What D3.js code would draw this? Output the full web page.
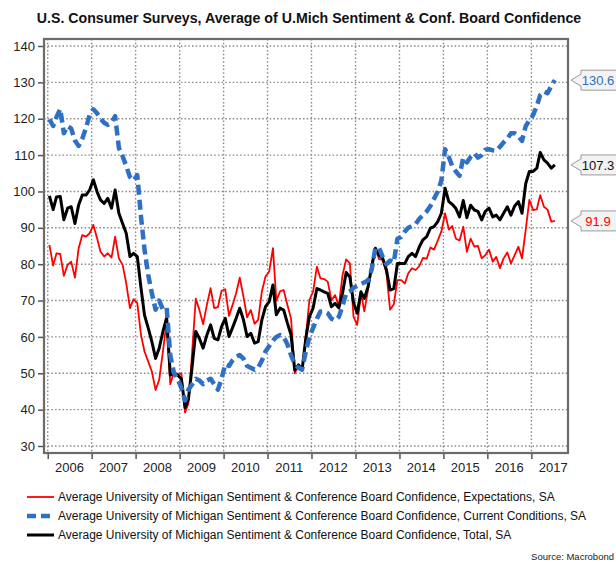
<!DOCTYPE html>
<html>
<head>
<meta charset="utf-8">
<script src="https://cdn.jsdelivr.net/npm/d3@7"></script>
<style>
  body { margin: 0; background: #fff; }
  svg { display: block; font-family: "Liberation Sans", Arial, sans-serif; }
</style>
</head>
<body>
<svg id="chart" width="616" height="562"></svg>
<script>
// monthly values, Jan 2006 .. Jul 2017
var expectations = [
  85.3, 79.6, 83.0, 82.8, 76.8, 79.8, 80.7, 76.3, 84.4, 88.0, 87.6, 88.5,
  90.8, 87.1, 83.5, 82.1, 83.0, 81.8, 87.6, 81.6, 79.8, 74.8, 67.9, 70.4,
  69.3, 60.5, 56.0, 53.2, 50.5, 45.4, 48.2, 56.0, 64.2, 47.0, 50.5, 49.6,
  50.0, 39.2, 41.7, 56.0, 70.5, 67.3, 63.5, 68.8, 73.4, 67.9, 68.2, 72.7,
  73.1, 65.8, 68.6, 72.0, 76.3, 71.1, 65.4, 67.4, 63.6, 64.7, 72.5, 76.6,
  78.0, 84.4, 70.0, 72.5, 72.9, 68.8, 65.1, 50.0, 52.3, 50.9, 60.0, 70.2,
  72.5, 79.3, 76.1, 75.9, 75.2, 70.1, 71.5, 68.5, 77.0, 81.3, 80.2, 65.6,
  63.3, 72.0, 67.0, 73.0, 80.0, 84.4, 81.4, 81.2, 77.5, 67.5, 69.0, 75.6,
  75.6, 74.7, 77.5, 78.9, 78.4, 79.5, 81.7, 81.5, 84.6, 84.0, 86.5, 89.0,
  94.0, 89.5, 90.5, 87.0, 86.5, 90.3, 83.4, 87.0, 84.8, 85.0, 81.6, 82.5,
  84.0, 80.7, 82.0, 78.9, 81.6, 83.2, 80.2, 82.5, 84.8, 81.6, 89.5, 97.7,
  94.9, 95.1, 99.0, 95.8, 95.0, 91.7, 91.9
];
var currentConditions = [
  119.8, 118.0, 120.5, 122.7, 116.0, 118.0, 117.3, 114.0, 112.5, 114.5, 117.5, 121.0,
  122.6, 121.5, 120.0, 118.9, 118.3, 119.0, 120.7, 112.0, 109.7, 107.0, 104.0, 103.0,
  104.5, 93.0, 84.0, 77.0, 72.0, 67.5, 70.0, 67.5, 68.0, 55.0, 50.0, 48.5,
  46.0, 42.5, 45.5, 47.0, 48.5, 48.0, 47.0, 48.0, 48.5, 47.0, 45.5, 48.5,
  52.5, 52.0, 53.5, 54.5, 55.0, 54.0, 52.0, 51.5, 51.0, 51.5, 53.5, 56.0,
  57.5, 59.0, 60.0, 60.5, 60.0, 58.0, 55.0, 52.5, 51.5, 51.0, 56.0, 60.0,
  62.5, 65.0, 67.0, 67.0, 66.5, 65.0, 64.5, 65.5, 68.5, 72.0, 72.5, 73.5,
  74.0, 74.5, 75.0, 75.5, 78.5, 84.5, 84.5, 82.0, 80.0, 81.0, 80.5, 87.0,
  87.5, 89.0, 90.0, 90.5, 91.0, 92.5, 93.5, 94.5, 96.0, 98.0, 100.0, 103.0,
  111.6, 109.5, 107.0, 105.5, 104.3, 109.3, 108.0, 109.5, 110.5, 109.3, 110.0, 111.5,
  111.6, 111.3, 111.2, 112.3, 113.5, 114.5, 116.0, 116.0, 115.2, 113.9, 118.0, 119.5,
  121.0, 123.5, 126.5, 127.5, 127.0, 129.0, 130.6
];
var totalIndex = [
  98.8, 95.0, 98.5, 98.6, 92.2, 95.4, 95.8, 91.2, 96.3, 99.0, 99.0, 100.4,
  103.2, 99.9, 97.7, 96.7, 98.1, 95.4, 100.4, 94.0, 91.2, 88.5, 82.1, 83.0,
  82.1, 73.4, 66.0, 62.4, 58.7, 54.1, 56.9, 61.5, 65.3, 49.5, 50.0, 49.5,
  48.5, 40.5, 43.0, 52.0, 61.5, 59.5, 56.9, 60.5, 63.3, 59.6, 59.2, 62.8,
  65.1, 60.1, 62.4, 65.1, 67.9, 64.7, 60.1, 61.0, 58.3, 58.7, 64.7, 68.3,
  69.7, 74.3, 66.1, 67.9, 67.4, 63.8, 60.6, 50.9, 52.3, 50.9, 59.6, 65.6,
  68.0, 73.3, 72.9, 72.4, 72.0, 68.3, 69.2, 68.0, 72.0, 77.7, 76.5, 69.5,
  66.5, 72.4, 70.6, 73.8, 79.3, 84.4, 82.5, 81.6, 78.4, 72.9, 73.3, 80.2,
  80.2, 80.2, 82.1, 83.0, 82.1, 84.8, 86.7, 87.6, 89.9, 90.3, 91.7, 94.0,
  100.9, 97.2, 96.5, 95.3, 93.0, 97.5, 92.8, 96.2, 94.9, 94.5, 92.2, 94.5,
  95.4, 93.0, 93.5, 92.2, 94.0, 95.8, 93.5, 96.0, 97.2, 94.0, 102.2, 105.5,
  105.5, 106.4, 110.7, 108.7, 107.8, 106.4, 107.3
];
var yearLabels = ["2006", "2007", "2008", "2009", "2010", "2011", "2012", "2013", "2014", "2015", "2016", "2017"];
var yTicks = [30, 40, 50, 60, 70, 80, 90, 100, 110, 120, 130, 140];
var legendNames = [
  "Average University of Michigan Sentiment & Conference Board Confidence, Expectations, SA",
  "Average University of Michigan Sentiment & Conference Board Confidence, Current Conditions, SA",
  "Average University of Michigan Sentiment & Conference Board Confidence, Total, SA"
];
var lastLabels = ["91.9", "130.6", "107.3"];

var svg = d3.select("#chart");
var plotL = 44, plotR = 568, plotT = 39, plotB = 453;

var x = d3.scaleTime()
  .domain([new Date(2005, 11, 1), new Date(2017, 10, 1)])
  .range([plotL, plotR]);
var y = d3.scaleLinear().domain([30, 140]).range([446, 46]);

var dateOf = function(i) { return new Date(2006, i, 15); };

// title
svg.append("text")
  .attr("x", 309).attr("y", 23)
  .attr("text-anchor", "middle")
  .attr("font-size", 14.2).attr("font-weight", "bold").attr("fill", "#111")
  .text("U.S. Consumer Surveys, Average of U.Mich Sentiment & Conf. Board Confidence");

// grid
var grid = svg.append("g").attr("stroke", "#888").attr("stroke-width", 1.4).attr("stroke-dasharray", "1.5,2.2");
grid.selectAll(".hg").data(yTicks).enter().append("line")
  .attr("x1", plotL).attr("x2", plotR)
  .attr("y1", function(d) { return y(d); }).attr("y2", function(d) { return y(d); });
var yearStarts = yearLabels.map(function(s) { return new Date(+s, 0, 1); });
grid.selectAll(".vg").data(yearStarts).enter().append("line")
  .attr("y1", plotT).attr("y2", plotB)
  .attr("x1", function(d) { return x(d); }).attr("x2", function(d) { return x(d); });

// y axis
var yAxis = d3.axisLeft(y).tickValues(yTicks).tickSize(5).tickPadding(3);
var ga = svg.append("g").attr("transform", "translate(" + (plotL - 1) + ",0)").call(yAxis);
ga.select(".domain").remove();
ga.selectAll("line").attr("stroke", "#555").attr("stroke-width", 1.5);
ga.selectAll("text").attr("font-size", 13).attr("fill", "#222").attr("font-family", "Liberation Sans, Arial, sans-serif");

// x axis
var xAxis = d3.axisBottom(x).tickValues(yearStarts).tickSize(6).tickFormat("");
var gx = svg.append("g").attr("transform", "translate(0," + plotB + ")").call(xAxis);
gx.select(".domain").remove();
gx.selectAll("line").attr("stroke", "#555").attr("stroke-width", 1.5);
svg.append("g").selectAll("text").data(yearLabels).enter().append("text")
  .attr("x", function(d) { return x(new Date(+d, 6, 1)); })
  .attr("y", 472)
  .attr("text-anchor", "middle").attr("font-size", 13).attr("fill", "#222")
  .text(function(d) { return d; });

// series
svg.append("clipPath").attr("id", "plot").append("rect")
  .attr("x", plotL).attr("y", plotT).attr("width", plotR - plotL).attr("height", plotB - plotT);
var line = d3.line()
  .x(function(d, i) { return x(dateOf(i)); })
  .y(function(d) { return y(d); });
var styles = [
  { data: expectations, color: "#ff0000", width: 1.8, dash: null },
  { data: totalIndex, color: "#000000", width: 3, dash: null },
  { data: currentConditions, color: "#2f6fc4", width: 4.5, dash: "10,5" }
];
var plot = svg.append("g").attr("clip-path", "url(#plot)");
styles.forEach(function(s) {
  plot.append("path").datum(s.data)
    .attr("d", line)
    .attr("fill", "none")
    .attr("stroke", s.color)
    .attr("stroke-width", s.width)
    .attr("stroke-linejoin", "round")
    .attr("stroke-dasharray", s.dash);
});

// frame
svg.append("rect").attr("x", plotL).attr("y", plotT)
  .attr("width", plotR - plotL).attr("height", plotB - plotT)
  .attr("fill", "none").attr("stroke", "#6b6b6b").attr("stroke-width", 2.2);

// last value callouts
var callouts = [
  { v: expectations[expectations.length - 1], label: lastLabels[0], color: "#ff0000" },
  { v: currentConditions[currentConditions.length - 1], label: lastLabels[1], color: "#2f6fc4" },
  { v: totalIndex[totalIndex.length - 1], label: lastLabels[2], color: "#111" }
];
callouts.forEach(function(c) {
  var cy = y(c.v);
  var p = "M571," + cy + " L581," + (cy - 6) + " L581," + (cy - 10) + " L617," + (cy - 10) +
          " L617," + (cy + 10) + " L581," + (cy + 10) + " L581," + (cy + 6) + " Z";
  svg.append("path").attr("d", p).attr("fill", "#f3f3f3").attr("stroke", "#9a9a9a").attr("stroke-width", 1);
  svg.append("text").attr("x", 598).attr("y", cy + 4.7)
    .attr("text-anchor", "middle").attr("font-size", 13).attr("fill", c.color)
    .text(c.label);
});

// legend
var legend = svg.append("g");
var legendStyles = [styles[0], styles[2], styles[1]];
legendNames.forEach(function(name, i) {
  var ly = 497 + i * 19;
  var s = legendStyles[i];
  legend.append("line").attr("x1", 27).attr("x2", 54).attr("y1", ly).attr("y2", ly)
    .attr("stroke", s.color).attr("stroke-width", s.width)
    .attr("stroke-dasharray", s.dash ? "9,5" : null);
  legend.append("text").attr("x", 58).attr("y", ly + 4.3)
    .attr("font-size", 12).attr("fill", "#111").text(name);
});

svg.append("text").attr("x", 614).attr("y", 560)
  .attr("text-anchor", "end").attr("font-size", 9.5).attr("fill", "#222")
  .text("Source: Macrobond");
</script>
</body>
</html>
